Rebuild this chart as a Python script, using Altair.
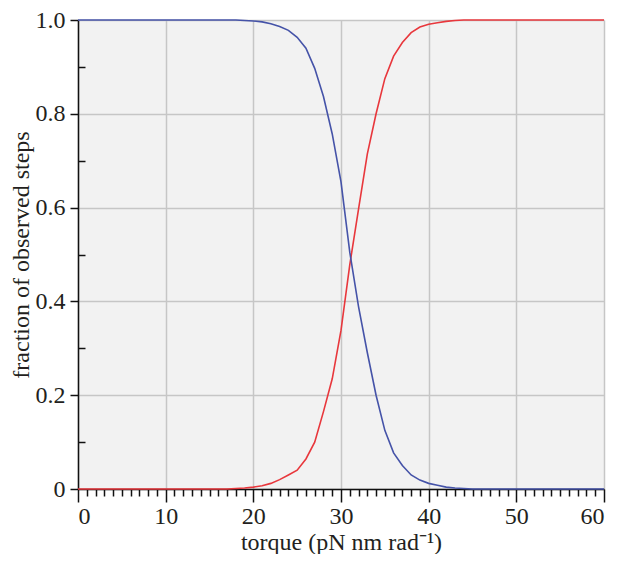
import altair as alt
import pandas as pd

torque = [0, 1, 2, 3, 4, 5, 6, 7, 8, 9, 10, 11, 12, 13, 14, 15, 16, 17, 18, 19,
          20, 21, 22, 23, 24, 25, 26, 27, 28, 29, 30, 31, 32, 33, 34, 35, 36, 37, 38, 39,
          40, 41, 42, 43, 44, 45, 46, 47, 48, 49, 50, 51, 52, 53, 54, 55, 56, 57, 58, 59, 60]

blue = [1.0, 1.0, 1.0, 1.0, 1.0, 1.0, 1.0, 1.0, 1.0, 1.0,
        1.0, 1.0, 1.0, 1.0, 1.0, 1.0, 1.0, 1.0, 1.0, 0.999,
        0.998, 0.996, 0.992, 0.986, 0.978, 0.963, 0.94, 0.897, 0.837, 0.757,
        0.655, 0.505, 0.389, 0.291, 0.20, 0.125, 0.077, 0.05, 0.03, 0.019,
        0.012, 0.008, 0.004, 0.002, 0.001, 0.0, 0.0, 0.0, 0.0, 0.0,
        0.0, 0.0, 0.0, 0.0, 0.0, 0.0, 0.0, 0.0, 0.0, 0.0, 0.0]

red = [0.0, 0.0, 0.0, 0.0, 0.0, 0.0, 0.0, 0.0, 0.0, 0.0,
       0.0, 0.0, 0.0, 0.0, 0.0, 0.0, 0.0, 0.0, 0.001, 0.002,
       0.004, 0.007, 0.012, 0.02, 0.03, 0.04, 0.064, 0.10, 0.165, 0.235,
       0.338, 0.478, 0.597, 0.714, 0.80, 0.875, 0.923, 0.952, 0.973, 0.985,
       0.991, 0.994, 0.997, 0.999, 1.0, 1.0, 1.0, 1.0, 1.0, 1.0,
       1.0, 1.0, 1.0, 1.0, 1.0, 1.0, 1.0, 1.0, 1.0, 1.0, 1.0]

x_major_ticks = [0, 10, 20, 30, 40, 50, 60]
x_minor_ticks = [v for v in torque if v % 10 != 0]
y_major_ticks = [0, 0.2, 0.4, 0.6, 0.8, 1.0]
y_minor_ticks = [0.1, 0.3, 0.5, 0.7, 0.9]

df = pd.DataFrame({"torque": torque, "blue": blue, "red": red})

W, H = 526, 469
FONT = "Liberation Serif"
TXT = "#231f20"

xscale = alt.Scale(domain=[0, 60], nice=False, zero=False)
yscale = alt.Scale(domain=[0, 1], nice=False)

x_major = alt.Axis(orient="bottom", values=x_major_ticks, title="torque (pN nm rad⁻¹)",
                   tickSize=13, grid=True, format="d", labelPadding=2, titlePadding=2)
y_major = alt.Axis(orient="left", values=y_major_ticks, title="fraction of observed steps",
                   tickSize=8, grid=True, labelPadding=5, titlePadding=2,
                   labelExpr="datum.value == 0 ? '0' : format(datum.value, '.1f')")
x_minor = alt.Axis(orient="bottom", values=x_minor_ticks, title=None, labels=False,
                   domain=False, grid=False, tickSize=7)
y_minor = alt.Axis(orient="right", values=y_minor_ticks, title=None, labels=False,
                   domain=False, grid=False, tickSize=7, offset=-W)

red_line = alt.Chart(df).mark_line(color="#e8373c", strokeWidth=1.6).encode(
    x=alt.X("torque:Q", scale=xscale, axis=x_minor),
    y=alt.Y("red:Q", scale=yscale, axis=y_minor),
)
blue_line = alt.Chart(df).mark_line(color="#4553a8", strokeWidth=1.6).encode(
    x=alt.X("torque:Q", scale=xscale, axis=x_major),
    y=alt.Y("blue:Q", scale=yscale, axis=y_major),
)

chart = (
    alt.layer(red_line, blue_line)
    .resolve_axis(x="independent", y="independent")
    .properties(width=W, height=H, autosize=alt.AutoSizeParams(type="none"),
                padding={"left": 70, "top": 12, "right": 12, "bottom": 65})
    .configure_view(fill="#f2f2f2", strokeOpacity=0)
    .configure_axis(labelFont=FONT, titleFont=FONT, labelFontSize=24, titleFontSize=24,
                    titleFontWeight="normal", labelColor=TXT, titleColor=TXT,
                    domainColor="#111111", tickColor="#111111", domainWidth=1.5,
                    tickWidth=1.5, gridColor="#c6c6c6", gridWidth=1.5)
)

chart.save("out.html", embed_options={"renderer": "svg", "actions": False})
